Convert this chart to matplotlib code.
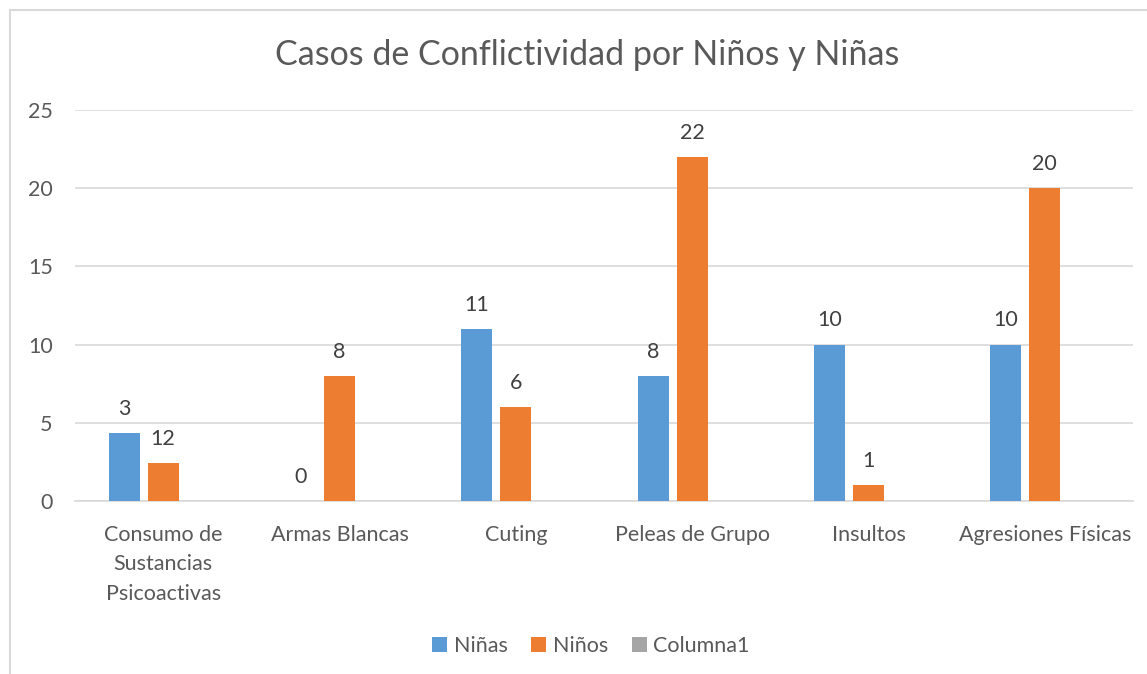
import matplotlib
matplotlib.use("Agg")
import matplotlib.pyplot as plt
from matplotlib.patches import Rectangle
import numpy as np

plt.rcParams['font.family'] = ['Lato', 'DejaVu Sans']

categories = ["Consumo de\nSustancias\nPsicoactivas", "Armas Blancas", "Cuting",
              "Peleas de Grupo", "Insultos", "Agresiones Físicas"]
ninas = [4.35, 0, 11, 8, 10, 10]
ninos = [2.4, 8, 6, 22, 1, 20]
columna1 = [0, 0, 0, 0, 0, 0]
ninas_labels = ["3", "0", "11", "8", "10", "10"]
ninos_labels = ["12", "8", "6", "22", "1", "20"]

txt = "#595959"
grid = "#D9D9D9"

fig = plt.figure(figsize=(11.47, 6.74), dpi=100)
ax = fig.add_axes([75/1147, 173/674, 1058/1147, 391/674])

x = np.arange(len(categories))
off = 0.221
w = 0.176
b1 = ax.bar(x - off, ninas, w, color="#5B9BD5", label="Niñas", zorder=3)
b2 = ax.bar(x, ninos, w, color="#ED7D31", label="Niños", zorder=3)
b3 = ax.bar(x + off, columna1, w, color="#A5A5A5", label="Columna1", zorder=3)

for bars, labs in ((b1, ninas_labels), (b2, ninos_labels)):
    for r, lab in zip(bars, labs):
        ax.annotate(lab, (r.get_x() + r.get_width()/2, r.get_height()),
                    xytext=(0, 17.5), textcoords="offset points",
                    ha="center", va="center", fontsize=15.5, color="#404040")

ax.set_xlim(-0.5, len(categories) - 0.5)
ax.set_ylim(0, 25)
ax.set_yticks([0, 5, 10, 15, 20, 25])
ax.yaxis.grid(True, color=grid, linewidth=1.2, zorder=0)
ax.set_xticks(x)
ax.set_xticklabels(categories, fontsize=15.5, color=txt, linespacing=1.6)
ax.tick_params(axis="y", length=0, pad=16, labelsize=15.5, labelcolor=txt)
ax.tick_params(axis="x", length=0, pad=17)
for s in ("top", "right", "left"):
    ax.spines[s].set_visible(False)
ax.spines["bottom"].set_color(grid)
ax.spines["bottom"].set_linewidth(1.2)

fig.text(0.512, 0.918, "Casos de Conflictividad por Niños y Niñas",
         ha="center", va="center", fontsize=24.5, color=txt)

fig.legend(handles=[b1, b2, b3], loc="center", bbox_to_anchor=(0.515, 0.042),
           ncol=3, frameon=False, fontsize=15.5, labelcolor=txt,
           handlelength=0.7, handleheight=0.7, handletextpad=0.3, columnspacing=1.1)

fig.patches.append(Rectangle((10/1147, -0.1), 1.2, (664/674) + 0.1,
                             transform=fig.transFigure, fill=False,
                             edgecolor=grid, linewidth=1.5))

fig.savefig("out.png", dpi=100)
